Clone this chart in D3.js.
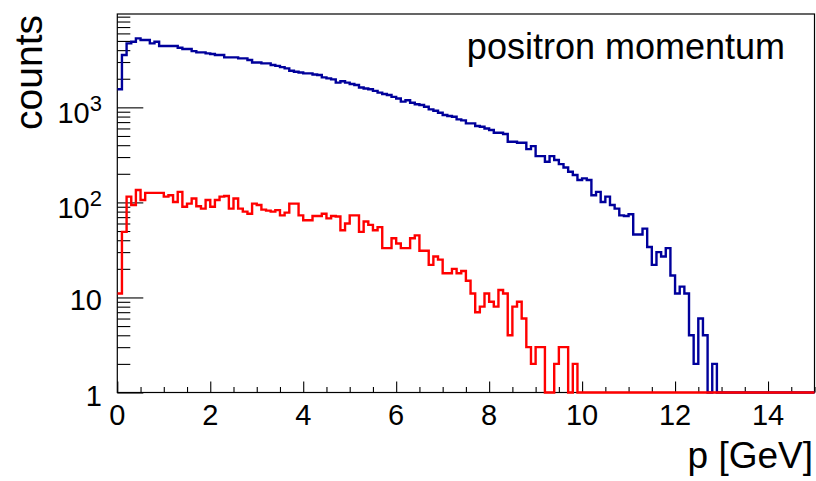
<!DOCTYPE html>
<html>
<head>
<meta charset="utf-8">
<script src="https://cdn.jsdelivr.net/npm/d3@7"></script>
<style>
  html, body { margin: 0; padding: 0; background: #fff; }
  svg { display: block; }
  text { font-family: "Liberation Sans", Arial, Helvetica, sans-serif; fill: #000; }
</style>
</head>
<body>
<svg id="chart" width="816" height="481"></svg>
<script>
// ---- data ----
const xMin = 0, xMax = 15, binWidth = 0.1;
const yMin = 1, yMax = 9600;

// all positrons (blue), counts per 0.1 GeV bin
const allCounts = [
  1550,3550,4710,4900,5320,5110,5110,4710,4910,4420,
  4420,4420,4420,4240,4110,4110,3910,3790,3790,3700,
  3640,3550,3550,3360,3360,3360,3280,3280,3150,2970,
  2970,2900,2900,2790,2730,2650,2570,2430,2370,2330,
  2280,2280,2220,2190,2070,2020,1970,1820,1880,1820,
  1760,1720,1620,1580,1550,1490,1430,1380,1350,1290,
  1240,1150,1190,1120,1080,1060,1015,952,921,878,
  830,810,797,747,730,678,678,636,625,600,
  577,541,541,524,435,435,424,424,364,391,
  307,307,268,307,279,253,233,210,194,172,
  179,172,119,129,101,115,94,86,73,72,
  75,46,46,53,34,22,30,27,33,17,
  11,13,11,4,2,6,4,0,2,0,
  0,0,0,0,0,0,0,0,0,0,
  0,0,0,0,0,0,0,0,0,0
];
// selected positrons (red)
const selCounts = [
  11,49,115,94,135,106,126,126,126,126,
  115,119,101,129,90,97,110,91,86,106,
  90,106,115,117,86,110,86,80,76,97,
  94,84,82,80,83,73,78,97,97,73,
  65,65,72,72,76,68,72,71,51,60,
  73,73,49,63,58,51,55,33,33,42,
  37,33,33,42,45,31,31,22,27,25,
  18,18,20,18,19,15,11,7,8,11,
  9,8,12,11,4,8,9,6,3,2,
  3,3,0,0,2,3,3,0,2,0,
  0,0,0,0,0,0,0,0,0,0,
  0,0,0,0,0,0,0,0,0,0,
  0,0,0,0,0,0,0,0,0,0,
  0,0,0,0,0,0,0,0,0,0,
  0,0,0,0,0,0,0,0,0,0
];
const xMajorTicks = [0, 2, 4, 6, 8, 10, 12, 14];
const xMinorStep = 0.5;
const yMajorTicks = [1, 10, 100, 1000];
const yTickLabels = [["1", null], ["10", null], ["10", "2"], ["10", "3"]];
const title = "positron momentum";
const xTitle = "p [GeV]";
const yTitle = "counts";

// ---- layout ----
const frame = { left: 117.3, right: 814.5, top: 14, bottom: 392.5 };
const svg = d3.select("#chart");

const x = d3.scaleLinear().domain([xMin, xMax]).range([frame.left, frame.right]);
const y = d3.scaleLog().domain([yMin, yMax]).range([frame.bottom, frame.top]);

svg.append("defs").append("clipPath").attr("id", "clip")
  .append("rect")
  .attr("x", frame.left).attr("y", frame.top - 1)
  .attr("width", frame.right - frame.left + 2)
  .attr("height", frame.bottom - frame.top + 4);

// frame
svg.append("rect")
  .attr("x", frame.left).attr("y", frame.top)
  .attr("width", frame.right - frame.left).attr("height", frame.bottom - frame.top)
  .attr("fill", "none").attr("stroke", "#000").attr("stroke-width", 1.2);

// x axis ticks (separate groups so both tick sets survive)
const xMinor = d3.range(xMin, xMax + 1e-9, xMinorStep).filter(v => !xMajorTicks.includes(v));
svg.append("g").attr("transform", `translate(0,${frame.bottom})`)
  .call(d3.axisTop(x).tickValues(xMinor).tickSize(5.5).tickFormat(""))
  .call(a => a.select(".domain").remove())
  .selectAll("line").attr("stroke", "#000").attr("stroke-width", 1.1);
svg.append("g").attr("transform", `translate(0,${frame.bottom})`)
  .call(d3.axisTop(x).tickValues(xMajorTicks).tickSize(11).tickFormat(""))
  .call(a => a.select(".domain").remove())
  .selectAll("line").attr("stroke", "#000").attr("stroke-width", 1.1);

svg.append("g").selectAll("text").data(xMajorTicks).join("text")
  .attr("x", d => x(d)).attr("y", 425)
  .attr("text-anchor", "middle").attr("font-size", 29)
  .text(d => d);

// y axis ticks
const yMinor = [];
yMajorTicks.forEach(d => { for (let k = 2; k <= 9; k++) if (d * k <= yMax) yMinor.push(d * k); });
svg.append("g").attr("transform", `translate(${frame.left},0)`)
  .call(d3.axisRight(y).tickValues(yMinor).tickSize(13).tickFormat(""))
  .call(a => a.select(".domain").remove())
  .selectAll("line").attr("stroke", "#000").attr("stroke-width", 1.1);
svg.append("g").attr("transform", `translate(${frame.left},0)`)
  .call(d3.axisRight(y).tickValues(yMajorTicks).tickSize(26).tickFormat(""))
  .call(a => a.select(".domain").remove())
  .selectAll("line").attr("stroke", "#000").attr("stroke-width", 1.1);

const yLab = svg.append("g").selectAll("text").data(yMajorTicks).join("text")
  .attr("x", 102)
  .attr("y", (d, i) => y(d) + (yTickLabels[i][1] ? 16 : 13))
  .attr("text-anchor", "end").attr("font-size", 29);
yLab.each(function (d, i) {
  const t = d3.select(this);
  const [base, exp] = yTickLabels[i];
  t.append("tspan").text(base);
  if (exp) t.append("tspan").attr("font-size", 22).attr("dy", -12.5).text(exp);
});

// histograms (drawn over the frame, as in the reference)
function histPath(counts) {
  const p = d3.path();
  counts.forEach((c, i) => {
    const x0 = x(xMin + i * binWidth), x1 = x(xMin + (i + 1) * binWidth);
    const yy = y(Math.max(c, yMin));
    if (i === 0) p.moveTo(x0, yy); else p.lineTo(x0, yy);
    p.lineTo(x1, yy);
  });
  return p.toString();
}
const g = svg.append("g").attr("clip-path", "url(#clip)");
g.append("path").attr("d", histPath(allCounts))
  .attr("fill", "none").attr("stroke", "#00009b").attr("stroke-width", 2.4)
  .attr("stroke-linejoin", "miter");
g.append("path").attr("d", histPath(selCounts))
  .attr("fill", "none").attr("stroke", "#ff0000").attr("stroke-width", 2.4)
  .attr("stroke-linejoin", "miter");

// titles
svg.append("text").attr("x", 785).attr("y", 59)
  .attr("text-anchor", "end").attr("font-size", 36).text(title);
svg.append("text").attr("x", 813).attr("y", 468)
  .attr("text-anchor", "end").attr("font-size", 37).text(xTitle);
svg.append("text").attr("transform", "translate(42,15) rotate(-90)")
  .attr("text-anchor", "end").attr("font-size", 39).text(yTitle);
</script>
</body>
</html>
